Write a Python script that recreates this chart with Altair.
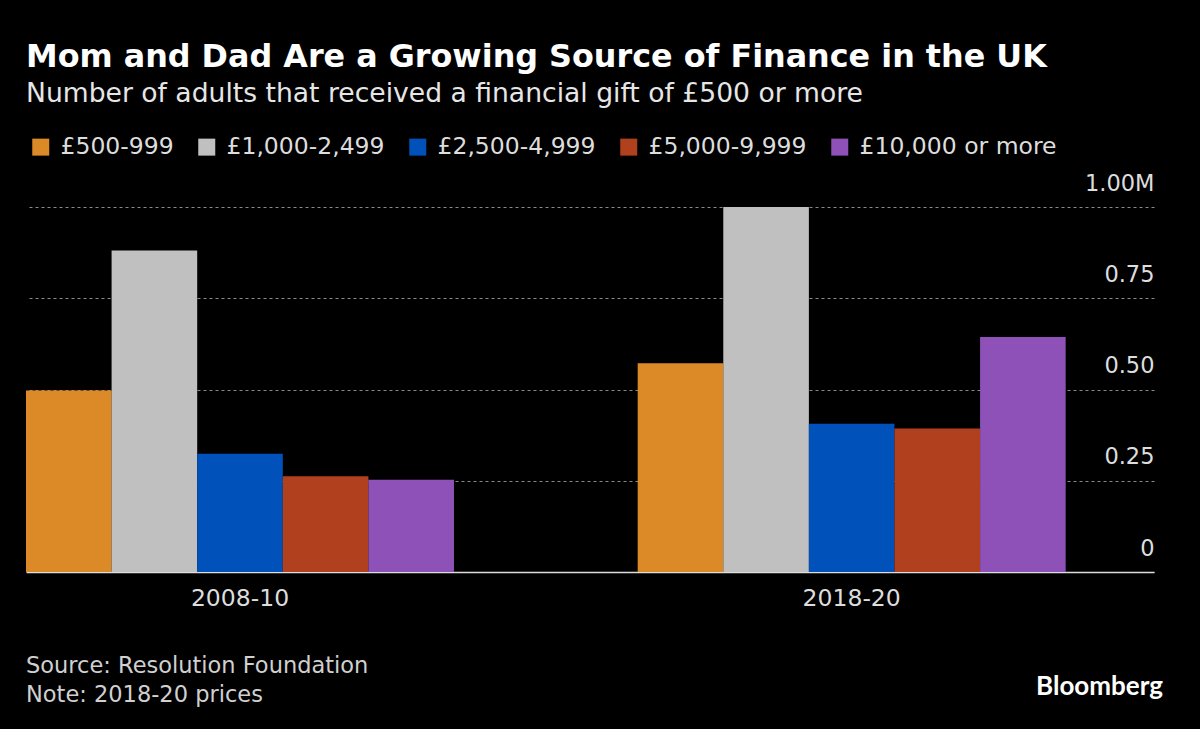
import altair as alt
import pandas as pd

periods = ["2008-10", "2018-20"]
brackets = ["£500-999", "£1,000-2,499", "£2,500-4,999", "£5,000-9,999", "£10,000 or more"]
values_2008 = [0.497, 0.881, 0.324, 0.262, 0.253]
values_2018 = [0.572, 1.0, 0.406, 0.393, 0.644]
colors = ["#DC8A27", "#C0C0C0", "#0051BA", "#B1401E", "#8E51B7"]
y_ticks = [0, 0.25, 0.5, 0.75, 1.0]
title_text = "Mom and Dad Are a Growing Source of Finance in the UK"
subtitle_text = "Number of adults that received a financial gift of £500 or more"
source_lines = ["Source: Resolution Foundation", "Note: 2018-20 prices"]
brand = "Bloomberg"

FONT = "DejaVu Sans"

rows = []
for p, vals in zip(periods, [values_2008, values_2018]):
    for b, v in zip(brackets, vals):
        rows.append({"period": p, "bracket": b, "value": v})
df = pd.DataFrame(rows)

bars = alt.Chart(df).mark_bar().encode(
    x=alt.X(
        "period:N",
        sort=periods,
        title=None,
        scale=alt.Scale(paddingInner=0.3003, paddingOuter=0.0722, align=0),
        axis=alt.Axis(
            labelAngle=0,
            labelFont=FONT,
            labelFontSize=23.5,
            labelColor="#dddddd",
            labelPadding=14,
            ticks=False,
            domainColor="#dddddd",
            domainWidth=1.5,
            grid=False,
        ),
    ),
    xOffset=alt.XOffset("bracket:N", sort=brackets, scale=alt.Scale(paddingInner=0, paddingOuter=0)),
    y=alt.Y(
        "value:Q",
        title=None,
        scale=alt.Scale(domain=[0, 1], nice=False),
        axis=alt.Axis(
            orient="right",
            values=y_ticks,
            labelExpr="datum.value == 0 ? '0' : (datum.value == 1 ? '1.00M' : format(datum.value, '.2f'))",
            labelAlign="right",
            labelBaseline="alphabetic",
            labelOffset=-17,
            labelPadding=0,
            labelFont=FONT,
            labelFontSize=22.5,
            labelColor="#dddddd",
            ticks=False,
            domain=False,
            grid=True,
            gridColor="#8a8a8a",
            gridDash=[3, 3],
            gridWidth=1.2,
        ),
    ),
    color=alt.Color(
        "bracket:N",
        sort=brackets,
        scale=alt.Scale(domain=brackets, range=colors),
        legend=alt.Legend(
            orient="none",
            legendX=3,
            legendY=-72,
            direction="horizontal",
            title=None,
            labelFont=FONT,
            labelFontSize=23.5,
            labelColor="#dddddd",
            labelLimit=0,
            labelOffset=8,
            symbolType="square",
            symbolSize=289,
            symbolStrokeWidth=0,
            symbolOpacity=1,
            columnPadding=21,
        ),
    ),
)

def text_layer(txt, x, y, size, color, weight="normal", align="left", font=FONT):
    return alt.Chart(pd.DataFrame({"t": [txt]})).mark_text(
        align=align, baseline="alphabetic", font=font, fontSize=size,
        fontWeight=weight, color=color,
    ).encode(x=alt.value(x), y=alt.value(y), text="t:N")

title_l = text_layer(title_text, 0, -140, 31.8, "#ffffff", weight="bold")
subtitle_l = text_layer(subtitle_text, 0, -105, 26.6, "#e6e6e6")
src1 = text_layer(source_lines[0], 0, 466, 22.5, "#d0d0d0")
src2 = text_layer(source_lines[1], 0, 495, 22.5, "#d0d0d0")
brand_l = text_layer(brand, 1137, 488, 26, "#ffffff", weight="bold", align="right", font="Lato")

chart = alt.layer(bars, title_l, subtitle_l, src1, src2, brand_l).properties(
    width=1128,
    height=365,
    padding={"left": 26, "top": 207, "right": 46, "bottom": 157},
    autosize=alt.AutoSizeParams(type="none"),
    background="#000000",
).configure_view(stroke=None)

chart.save("out.html", embed_options={"renderer": "svg", "actions": False})
